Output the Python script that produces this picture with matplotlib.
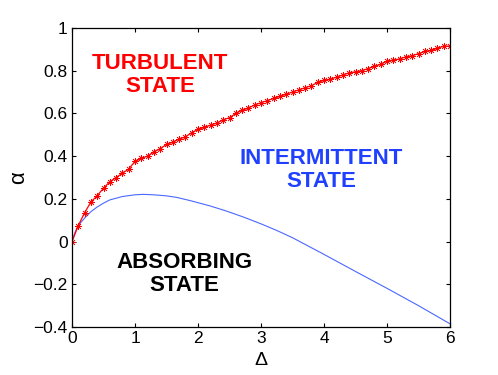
import matplotlib
matplotlib.use("Agg")
import matplotlib.pyplot as plt

plt.rcParams['font.family'] = ['Liberation Sans', 'DejaVu Sans']

# Red series (turbulent/intermittent boundary), step 0.1
delta_red = [i / 10 for i in range(61)]
alpha_red = [0.0, 0.075, 0.135, 0.185, 0.215, 0.25, 0.28, 0.30, 0.32, 0.34,
             0.375, 0.39, 0.40, 0.42, 0.435, 0.455, 0.465, 0.48, 0.49, 0.51,
             0.525, 0.535, 0.545, 0.555, 0.57, 0.58, 0.60, 0.615, 0.625, 0.64,
             0.65, 0.66, 0.67, 0.68, 0.69, 0.70, 0.71, 0.72, 0.73, 0.745,
             0.755, 0.76, 0.77, 0.78, 0.79, 0.795, 0.80, 0.81, 0.82, 0.83,
             0.845, 0.85, 0.855, 0.865, 0.87, 0.88, 0.89, 0.895, 0.905, 0.915,
             0.915]

# Blue series (absorbing/intermittent boundary)
delta_blue = [0, 0.05, 0.1, 0.2, 0.3, 0.4, 0.5, 0.6, 0.8, 1.0, 1.13, 1.3,
              1.5, 1.66, 1.9, 2.19, 2.45, 2.72, 3.0, 3.25, 3.5, 4.0, 4.5,
              5.0, 5.5, 6.0]
alpha_blue = [0, 0.045, 0.075, 0.11, 0.14, 0.162, 0.18, 0.195, 0.211, 0.219,
              0.221, 0.219, 0.214, 0.207, 0.19, 0.167, 0.143, 0.115, 0.083,
              0.052, 0.018, -0.06, -0.14, -0.219, -0.30, -0.385]

xticks = [0, 1, 2, 3, 4, 5, 6]
yticks = [-0.4, -0.2, 0, 0.2, 0.4, 0.6, 0.8, 1]
yticklabels = ['\u22120.4', '\u22120.2', '0', '0.2', '0.4', '0.6', '0.8', '1']

fig = plt.figure(figsize=(4.98, 3.75), dpi=100)
ax = fig.add_axes([72 / 498, 1 - 327 / 375, 378 / 498, 299 / 375])

ax.plot(delta_blue, alpha_blue, color='#4a68ff', lw=0.8)
ax.plot(delta_red, alpha_red, color='#ff0000', lw=0.9, marker=(8, 2, 0),
        markersize=5, markeredgewidth=0.5)

ax.set_xlim(0, 6)
ax.set_ylim(-0.4, 1)
ax.set_xticks(xticks)
ax.set_xticklabels([str(t) for t in xticks])
ax.set_yticks(yticks)
ax.set_yticklabels(yticklabels)
ax.tick_params(direction='in', length=3, width=0.8, labelsize=12.5,
               top=True, right=True, pad=3)
for s in ax.spines.values():
    s.set_linewidth(0.9)

ax.set_xlabel('\u0394', fontsize=14, labelpad=4)
ax.set_ylabel('\u03b1', fontsize=16, labelpad=3)

ax.text(1.40, 0.778, 'TURBULENT\nSTATE', color='#ff0000', fontsize=16,
        fontweight='bold', ha='center', va='center', linespacing=1.12)
ax.text(3.95, 0.335, 'INTERMITTENT\nSTATE', color='#2040ff', fontsize=16,
        fontweight='bold', ha='center', va='center', linespacing=1.12)
ax.text(1.78, -0.152, 'ABSORBING\nSTATE', color='black', fontsize=16,
        fontweight='bold', ha='center', va='center', linespacing=1.12)

fig.savefig('out.png', dpi=100)
